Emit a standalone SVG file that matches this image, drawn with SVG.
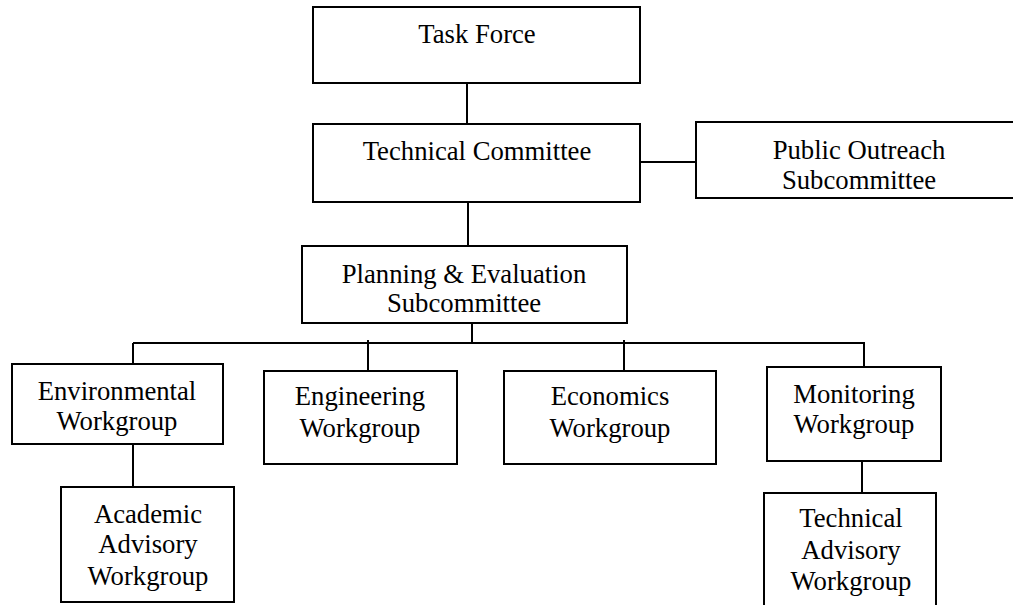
<svg xmlns="http://www.w3.org/2000/svg" width="1013" height="605" viewBox="0 0 1013 605">
<style>
.box{fill:#fff;stroke:#000;stroke-width:2}
.c{stroke:#000;stroke-width:2;fill:none}
text{font-family:"Liberation Serif","Times New Roman",serif;font-size:26.7px;fill:#000;text-anchor:middle}
</style>
<rect width="1013" height="605" fill="#fff"/>
<g id="connectors">
<line class="c" x1="467" y1="83" x2="467" y2="124"/>
<line class="c" x1="468" y1="202" x2="468" y2="246"/>
<line class="c" x1="640" y1="162" x2="696" y2="162"/>
<line class="c" x1="472" y1="323" x2="472" y2="343"/>
<line class="c" x1="133" y1="343" x2="864" y2="343"/>
<line class="c" x1="133" y1="343" x2="133" y2="364"/>
<line class="c" x1="368" y1="340" x2="368" y2="371"/>
<line class="c" x1="624" y1="340" x2="624" y2="371"/>
<line class="c" x1="864" y1="342" x2="864" y2="367"/>
<line class="c" x1="133" y1="444" x2="133" y2="487"/>
<line class="c" x1="862" y1="461" x2="862" y2="493"/>
</g>
<g id="task-force">
<rect class="box" x="313" y="7" width="327" height="76"/>
<text x="477" y="43">Task Force</text>
</g>
<g id="technical-committee">
<rect class="box" x="313" y="124" width="327" height="78"/>
<text x="477" y="160">Technical Committee</text>
</g>
<g id="public-outreach">
<rect class="box" x="696" y="122" width="330" height="76"/>
<text x="859" y="159">Public Outreach</text>
<text x="859" y="189">Subcommittee</text>
</g>
<g id="planning-evaluation">
<rect class="box" x="302" y="246" width="325" height="77"/>
<text x="464" y="283">Planning &amp; Evaluation</text>
<text x="464" y="312">Subcommittee</text>
</g>
<g id="environmental">
<rect class="box" x="12" y="364" width="211" height="80"/>
<text x="117" y="400">Environmental</text>
<text x="117" y="430">Workgroup</text>
</g>
<g id="engineering">
<rect class="box" x="264" y="371" width="193" height="93"/>
<text x="360" y="405">Engineering</text>
<text x="360" y="437">Workgroup</text>
</g>
<g id="economics">
<rect class="box" x="504" y="371" width="212" height="93"/>
<text x="610" y="405">Economics</text>
<text x="610" y="437">Workgroup</text>
</g>
<g id="monitoring">
<rect class="box" x="767" y="367" width="174" height="94"/>
<text x="854" y="403">Monitoring</text>
<text x="854" y="433">Workgroup</text>
</g>
<g id="academic-advisory">
<rect class="box" x="61" y="487" width="173" height="115"/>
<text x="148" y="523">Academic</text>
<text x="148" y="553">Advisory</text>
<text x="148" y="585">Workgroup</text>
</g>
<g id="technical-advisory">
<rect class="box" x="764" y="493" width="172" height="130"/>
<text x="851" y="527">Technical</text>
<text x="851" y="559">Advisory</text>
<text x="851" y="590">Workgroup</text>
</g>
</svg>
